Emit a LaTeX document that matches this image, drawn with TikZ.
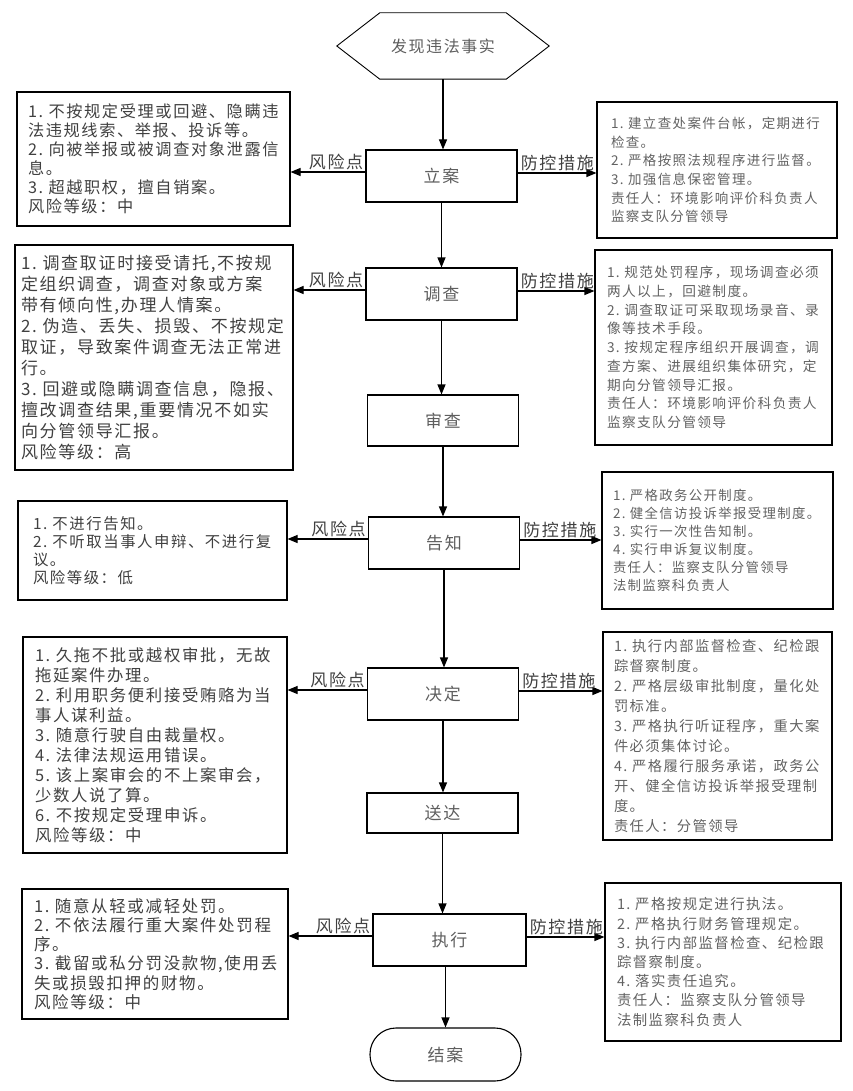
\documentclass[tikz,border=0pt]{standalone}
\usepackage{fontspec}
\setmainfont[LetterSpace=10]{Noto Sans CJK SC}
\usetikzlibrary{arrows.meta}
\definecolor{txtL}{HTML}{404040}
\definecolor{txtR}{HTML}{626262}
\definecolor{txtM}{HTML}{5E5E5E}
\begin{document}
\begin{tikzpicture}[x=1pt,y=-1pt,
  stepbox/.style={draw, line width=1.1pt, minimum width=151pt, minimum height=52pt, inner sep=0pt, text=txtM, font=\fontsize{17}{20}\selectfont},
  infobox/.style={draw, line width=1.1pt, align=left, inner ysep=0pt},
  leftbox/.style={infobox, text=txtL},
  rightbox/.style={infobox, text=txtR},
  arr/.style={line width=1.1pt, -{Triangle[length=10pt,width=8pt]}},
  lbl/.style={inner sep=1pt, text=txtL, font=\fontsize{17}{20}\selectfont},
]
\useasboundingbox (0,0) rectangle (853,1091);

% start hexagon
\node[minimum width=212pt, minimum height=66pt, inner sep=0pt, text=txtM, font=\fontsize{16}{20}\selectfont] (start) at (443,46) {发现违法事实};
\draw[line width=0.9pt] (start.west) -- ([xshift=43pt]start.north west) -- ([xshift=-43pt]start.north east) -- (start.east) -- ([xshift=-43pt]start.south east) -- ([xshift=43pt]start.south west) -- cycle;

% steps
\node[stepbox] (s1) at (441.5,176) {立案};
\node[stepbox] (s2) at (441.5,294) {调查};
\node[stepbox, minimum height=51pt] (s3) at (443,420.5) {审查};
\node[stepbox] (s4) at (444,543) {告知};
\node[stepbox] (s5) at (443,694) {决定};
\node[stepbox, minimum height=40pt] (s6) at (442.5,813) {送达};
\node[stepbox, minimum width=153pt] (s7) at (449.5,940) {执行};
\node[stepbox, minimum height=53pt, rounded corners=26pt] (fin) at (445.5,1054.5) {结案};

% left risk boxes
\node[leftbox, minimum width=273pt, minimum height=134pt, inner xsep=11pt, text width=251pt, font=\fontsize{16.2}{19}\selectfont] (r1) at (153.5,159) {1.~不按规定受理或回避、隐瞒违\\法违规线索、举报、投诉等。\\2.~向被举报或被调查对象泄露信\\息。\\3.~超越职权，擅自销案。\\风险等级：中};

\node[leftbox, minimum width=278pt, minimum height=225pt, inner xsep=6pt, text width=266pt, font=\fontsize{17}{21}\selectfont] (r2) at (154,357.5) {1.~调查取证时接受请托,不按规\\定组织调查，调查对象或方案\\带有倾向性,办理人情案。\\2.~伪造、丢失、损毁、不按规定\\取证，导致案件调查无法正常进\\行。\\3.~回避或隐瞒调查信息，隐报、\\擅改调查结果,重要情况不如实\\向分管领导汇报。\\风险等级：高};

\node[leftbox, minimum width=269pt, minimum height=99pt, inner xsep=15pt, text width=239pt, font=\fontsize{15.4}{18}\selectfont] (r4) at (152.5,550.5) {1.~不进行告知。\\2.~不听取当事人申辩、不进行复\\议。\\风险等级：低};

\node[leftbox, minimum width=264pt, minimum height=216pt, inner xsep=12pt, text width=240pt, font=\fontsize{16.4}{20}\selectfont] (r5) at (155,745) {1.~久拖不批或越权审批，无故\\拖延案件办理。\\2.~利用职务便利接受贿赂为当\\事人谋利益。\\3.~随意行驶自由裁量权。\\4.~法律法规运用错误。\\5.~该上案审会的不上案审会，\\少数人说了算。\\6.~不按规定受理申诉。\\风险等级：中};

\node[leftbox, minimum width=266pt, minimum height=130pt, inner xsep=12pt, text width=242pt, font=\fontsize{16.5}{19.3}\selectfont] (r7) at (155,954) {1.~随意从轻或减轻处罚。\\2.~不依法履行重大案件处罚程\\序。\\3.~截留或私分罚没款物,使用丢\\失或损毁扣押的财物。\\风险等级：中};

% right measure boxes
\node[rightbox, minimum width=240pt, minimum height=136pt, inner xsep=14pt, text width=212pt, font=\fontsize{13.5}{18.7}\selectfont] (m1) at (717,170) {1.~建立查处案件台帐，定期进行\\检查。\\2.~严格按照法规程序进行监督。\\3.~加强信息保密管理。\\责任人：环境影响评价科负责人\\监察支队分管领导};

\node[rightbox, minimum width=237pt, minimum height=195pt, inner xsep=12pt, text width=213pt, font=\fontsize{13.7}{18.75}\selectfont] (m2) at (713.5,347.5) {1.~规范处罚程序，现场调查必须\\两人以上，回避制度。\\2.~调查取证可采取现场录音、录\\像等技术手段。\\3.~按规定程序组织开展调查，调\\查方案、进展组织集体研究，定\\期向分管领导汇报。\\责任人：环境影响评价科负责人\\监察支队分管领导};

\node[rightbox, minimum width=231pt, minimum height=137pt, inner xsep=11pt, text width=209pt, font=\fontsize{13.4}{18}\selectfont] (m4) at (717.5,540.5) {1.~严格政务公开制度。\\2.~健全信访投诉举报受理制度。\\3.~实行一次性告知制。\\4.~实行申诉复议制度。\\责任人：监察支队分管领导\\法制监察科负责人};

\node[rightbox, minimum width=229pt, minimum height=208pt, inner xsep=11pt, text width=207pt, font=\fontsize{14.3}{20}\selectfont] (m5) at (717.5,736) {1.~执行内部监督检查、纪检跟\\踪督察制度。\\2.~严格层级审批制度，量化处\\罚标准。\\3.~严格执行听证程序，重大案\\件必须集体讨论。\\4.~严格履行服务承诺，政务公\\开、健全信访投诉举报受理制\\度。\\责任人：分管领导};

\node[rightbox, minimum width=236pt, minimum height=158pt, inner xsep=12pt, text width=212pt, font=\fontsize{14.4}{19.2}\selectfont] (m7) at (723,962) {1.~严格按规定进行执法。\\2.~严格执行财务管理规定。\\3.~执行内部监督检查、纪检跟\\踪督察制度。\\4.~落实责任追究。\\责任人：监察支队分管领导\\法制监察科负责人};

% main flow
\draw[arr] (start.south) -- (start.south |- s1.north);
\draw[arr] (s1.south) -- (s1.south |- s2.north);
\draw[arr] (s2.south) -- (s2.south |- s3.north);
\draw[arr] (s3.south) -- (s3.south |- s4.north);
\draw[arr] (s4.south) -- (s4.south |- s5.north);
\draw[arr] (s5.south) -- (s5.south |- s6.north);
\draw[arr] (s6.south) -- (s6.south |- s7.north);
\draw[arr] (s7.south -| fin.north) -- (fin.north);

% side arrows and labels
\foreach \s/\r/\m in {s1/r1/m1, s2/r2/m2, s4/r4/m4, s5/r5/m5, s7/r7/m7} {
  \coordinate (lw\s) at ([yshift=4pt]\s.west);
  \coordinate (re\s) at ([yshift=3pt]\s.east);
  \draw[arr] (lw\s) -- (lw\s -| \r.east);
  \draw[arr] (re\s) -- (re\s -| \m.west);
  \node[lbl, anchor=south east] (rk\s) at ([xshift=-1pt,yshift=1pt]lw\s) {风险点};
  \node[lbl, anchor=south west] (fk\s) at ([xshift=2pt,yshift=1pt]re\s) {防控措施};
}
\end{tikzpicture}
\end{document}
